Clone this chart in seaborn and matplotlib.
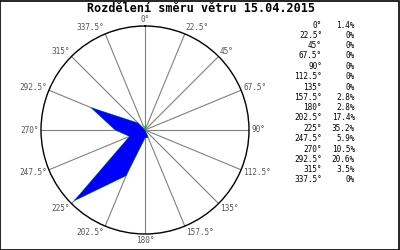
import numpy as np
import matplotlib
matplotlib.use("Agg")
import matplotlib.pyplot as plt
import seaborn as sns
from matplotlib.patches import Rectangle

title = "Rozdělení směru větru 15.04.2015"
directions = [0, 22.5, 45, 67.5, 90, 112.5, 135, 157.5, 180, 202.5, 225, 247.5, 270, 292.5, 315, 337.5]
percents = [1.4, 0, 0, 0, 0, 0, 0, 2.8, 2.8, 17.4, 35.2, 5.9, 10.5, 20.6, 3.5, 0]
percent_labels = ["1.4%", "0%", "0%", "0%", "0%", "0%", "0%", "2.8%", "2.8%", "17.4%",
                  "35.2%", "5.9%", "10.5%", "20.6%", "3.5%", "0%"]
angle_labels = ["0°", "22.5°", "45°", "67.5°", "90°", "112.5°", "135°", "157.5°", "180°",
                "202.5°", "225°", "247.5°", "270°", "292.5°", "315°", "337.5°"]

sns.set_style("white")
plt.rcParams['font.family'] = ['DejaVu Sans Mono', 'DejaVu Sans']

fig = plt.figure(figsize=(4, 2.5), dpi=100)
fig.patch.set_facecolor("white")
ax = fig.add_axes([0.1025, 0.064, 0.52, 0.832], projection="polar")
ax.set_theta_zero_location("N")
ax.set_theta_direction(-1)
rmax = 36.6
ax.set_ylim(0, rmax)

theta = np.deg2rad(directions)
ax.set_xticks(theta)
ax.set_xticklabels([])
ax.set_yticks([])
ax.grid(True, axis="x", color="#808080", lw=0.8)
ax.set_axisbelow(True)
ax.spines["polar"].set_color("black")
ax.spines["polar"].set_linewidth(1.0)
ax.set_facecolor("white")

th_c = np.append(theta, theta[0])
r_c = np.append(percents, percents[0])
ax.fill(th_c, r_c, color="#0000ff", zorder=3, lw=0)
sns.lineplot(x=th_c, y=r_c, sort=False, estimator=None, ax=ax, color="#00c000", lw=0.5, zorder=2)
ax.set_xlabel("")
ax.set_ylabel("")

for d, lab in zip(directions, angle_labels):
    s, c = np.sin(np.deg2rad(d)), np.cos(np.deg2rad(d))
    ha = "left" if s > 0.1 else ("right" if s < -0.1 else "center")
    ax.annotate(lab, xy=(np.deg2rad(d), rmax), xytext=(1.5 * s, 4.8 * c),
                textcoords="offset points", ha=ha, va="center", fontsize=5.6,
                color="#555555", annotation_clip=False)

fig.text(0.502, 0.964, title, ha="center", va="center", fontsize=8.5, fontweight="bold", color="black")

y0, y1 = 25, 180
n = len(directions)
for i, (al, pl) in enumerate(zip(angle_labels, percent_labels)):
    ypx = y0 + (y1 - y0) * i / (n - 1)
    fig.text(322 / 400, 1 - ypx / 250, al, ha="right", va="center", fontsize=5.6, color="black")
    fig.text(355 / 400, 1 - ypx / 250, pl, ha="right", va="center", fontsize=5.6, color="black")

fig.patches.append(Rectangle((0.001, 0.002), 0.997, 0.996, transform=fig.transFigure,
                             fill=False, edgecolor="black", lw=1.2))

fig.savefig("out.png", dpi=100, facecolor="white")
